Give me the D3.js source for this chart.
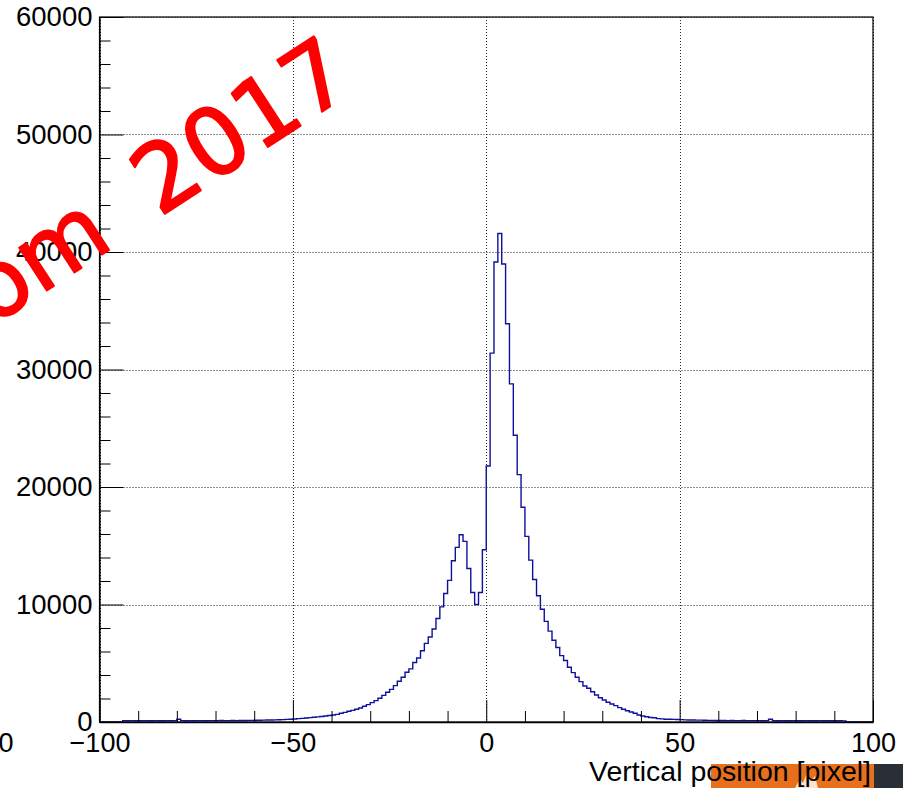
<!DOCTYPE html>
<html>
<head>
<meta charset="utf-8">
<script src="https://cdn.jsdelivr.net/npm/d3@7"></script>
<style>
  html, body { margin: 0; padding: 0; background: #ffffff; }
  svg { display: block; }
</style>
</head>
<body>
<svg id="chart" width="903" height="788"></svg>
<script>
// Histogram of vertical position, 1-pixel bins from -100 to 100
const binLow = -100;
const binWidth = 1;
const counts = [
  // -100 .. -91
  0, 0, 0, 0, 0, 0, 110, 110, 120, 110,
  // -90 .. -81
  110, 120, 110, 110, 120, 110, 110, 120, 110, 120,
  // -80 .. -71
  230, 120, 110, 120, 110, 120, 120, 110, 120, 120,
  // -70 .. -61
  120, 130, 120, 120, 130, 120, 130, 130, 140, 140,
  // -60 .. -51
  150, 150, 160, 170, 170, 180, 190, 200, 220, 240,
  // -50 .. -41
  260, 290, 310, 340, 370, 400, 440, 470, 510, 550,
  // -40 .. -31
  600, 650, 740, 820, 910, 990, 1080, 1190, 1340, 1480,
  // -30 .. -21
  1650, 1820, 2020, 2270, 2530, 2780, 3100, 3470, 3810, 4230,
  // -20 .. -11
  4520, 5060, 5450, 6060, 6690, 7230, 7910, 8810, 9800, 10940,
  // -10 .. -1
  12050, 13720, 14860, 15940, 15370, 13070, 11020, 10000, 11020, 14660,
  // 0 .. 9
  21790, 31390, 39150, 41570, 38980, 33890, 28780, 24400, 21050, 18280,
  // 10 .. 19
  15800, 13780, 12130, 10750, 9600, 8560, 7730, 6960, 6340, 5650,
  // 20 .. 29
  5230, 4660, 4200, 3810, 3440, 3070, 2870, 2580, 2300, 2070,
  // 30 .. 39
  1875, 1680, 1530, 1390, 1220, 1080, 960, 850, 740, 600,
  // 40 .. 49
  510, 450, 380, 360, 290, 270, 240, 230, 220, 210,
  // 50 .. 59
  200, 180, 170, 170, 160, 160, 150, 140, 140, 130,
  // 60 .. 69
  130, 130, 120, 130, 120, 120, 130, 120, 120, 120,
  // 70 .. 79
  120, 110, 120, 230, 120, 110, 120, 110, 110, 120,
  // 80 .. 89
  110, 110, 120, 110, 110, 110, 120, 110, 110, 110,
  // 90 .. 99
  110, 110, 100, 0, 0, 0, 0, 0, 0, 0
];

const xDomain = [-100, 100];
const yDomain = [0, 60000];
const xMajorTicks = [-100, -50, 0, 50, 100];
const xMinorTicks = [-90, -80, -70, -60, -40, -30, -20, -10, 10, 20, 30, 40, 60, 70, 80, 90];
const yMajorTicks = [0, 10000, 20000, 30000, 40000, 50000, 60000];
const yMinorTicks = d3.range(0, 60001, 2000).filter(v => v % 10000 !== 0);
const xTitle = "Vertical position [pixel]";
const stampText = "om 2017";

const frame = { left: 99.5, right: 873, top: 17, bottom: 722 };
const font = "'Liberation Sans', Arial, Helvetica, sans-serif";

const svg = d3.select("#chart");

const x = d3.scaleLinear().domain(xDomain).range([frame.left, frame.right]);
const y = d3.scaleLinear().domain(yDomain).range([frame.bottom, frame.top]);

// dotted grid
const grid = svg.append("g").attr("stroke", "#222").attr("stroke-width", 1)
  .attr("stroke-dasharray", "1,2").attr("fill", "none");
grid.selectAll("line.gx").data(xMajorTicks).join("line")
  .attr("x1", d => Math.round(x(d)) + 0.5).attr("x2", d => Math.round(x(d)) + 0.5)
  .attr("y1", frame.top).attr("y2", frame.bottom);
grid.selectAll("line.gy").data(yMajorTicks).join("line")
  .attr("x1", frame.left).attr("x2", frame.right)
  .attr("y1", d => Math.round(y(d)) + 0.5).attr("y2", d => Math.round(y(d)) + 0.5);

// histogram outline
const pts = counts.map((c, i) => [binLow + i * binWidth, c]);
pts.push([binLow + counts.length * binWidth, counts[counts.length - 1]]);
const line = d3.line().x(d => x(d[0])).y(d => y(d[1])).curve(d3.curveStepAfter);
svg.append("path")
  .attr("d", line(pts))
  .attr("fill", "none")
  .attr("stroke", "#10109c")
  .attr("stroke-width", 1.4);

// frame
svg.append("rect")
  .attr("x", frame.left).attr("y", frame.top)
  .attr("width", frame.right - frame.left).attr("height", frame.bottom - frame.top)
  .attr("fill", "none").attr("stroke", "#000").attr("stroke-width", 1.2);

// x axis
const xAxisG = svg.append("g").attr("transform", `translate(0,${frame.bottom})`);
xAxisG.call(d3.axisBottom(x).tickValues(xMajorTicks).tickSizeInner(-22).tickSizeOuter(0).tickPadding(11));
xAxisG.call(g => g.select(".domain").attr("stroke", "#000").attr("stroke-width", 1.4));
xAxisG.selectAll("text").attr("font-family", font).attr("font-size", 27).attr("fill", "#000");
const xMinorG = svg.append("g").attr("transform", `translate(0,${frame.bottom})`);
xMinorG.call(d3.axisBottom(x).tickValues(xMinorTicks).tickSizeInner(-11).tickSizeOuter(0).tickFormat(""));
xMinorG.select(".domain").remove();

// y axis
const yAxisG = svg.append("g").attr("transform", `translate(${frame.left},0)`);
yAxisG.call(d3.axisLeft(y).tickValues(yMajorTicks).tickSizeInner(-24).tickSizeOuter(0).tickPadding(7).tickFormat(d3.format("d")));
yAxisG.call(g => g.select(".domain").attr("stroke", "#000").attr("stroke-width", 1.2));
yAxisG.selectAll("text").attr("font-family", font).attr("font-size", 27.5).attr("fill", "#000");
const yMinorG = svg.append("g").attr("transform", `translate(${frame.left},0)`);
yMinorG.call(d3.axisLeft(y).tickValues(yMinorTicks).tickSizeInner(-11).tickSizeOuter(0).tickFormat(""));
yMinorG.select(".domain").remove();

// stray label at the far left edge
svg.append("text")
  .attr("x", 6).attr("y", 752)
  .attr("text-anchor", "middle")
  .attr("font-family", font).attr("font-size", 27)
  .text("0");

// footer banner
svg.append("rect").attr("x", 711).attr("y", 764).attr("width", 163).attr("height", 24).attr("fill", "#e8701c");
svg.append("rect").attr("x", 874).attr("y", 764).attr("width", 29).attr("height", 24).attr("fill", "#2a2f37");
svg.append("path")
  .attr("d", "M795,788 L800,779 L803,783 L807,773 L811,781 L815,776 L818,788 Z")
  .attr("fill", "#fbe4cf");

// axis title
svg.append("text")
  .attr("x", 871).attr("y", 781)
  .attr("text-anchor", "end")
  .attr("font-family", font).attr("font-size", 28.5)
  .attr("fill", "#000")
  .text(xTitle);

// red stamp
svg.append("text")
  .attr("transform", "translate(-8,326) rotate(-33)")
  .attr("font-family", "'DejaVu Sans', sans-serif")
  .attr("font-size", 93)
  .attr("word-spacing", 22)
  .attr("fill", "#ff0000")
  .attr("stroke", "#ff0000")
  .attr("stroke-width", 2)
  .attr("stroke-linejoin", "round")
  .text(stampText);
</script>
</body>
</html>
